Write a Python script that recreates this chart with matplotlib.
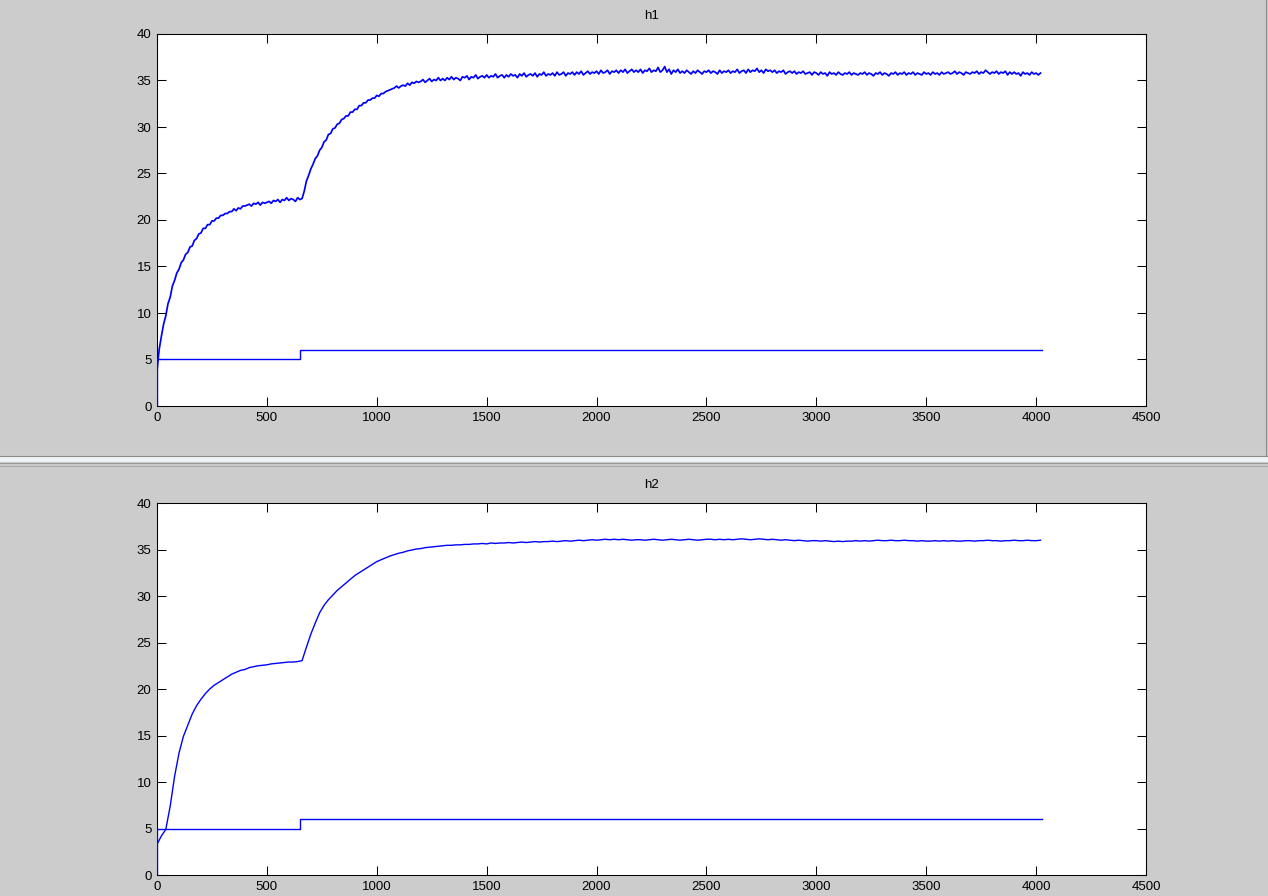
import matplotlib
matplotlib.use("Agg")
import matplotlib.pyplot as plt
from matplotlib.patches import Rectangle
from matplotlib.lines import Line2D
import numpy as np

# ---------------- data ----------------
h1_step = 10
h1_values = [
    3.8, 6.1, 7.5, 8.8, 9.7, 11.0, 11.7, 12.9, 13.5, 14.3,
    14.7, 15.4, 15.7, 16.3, 16.5, 17.1, 17.2, 17.8, 18.0, 18.5,
    18.6, 19.1, 19.1, 19.5, 19.5, 19.9, 19.9, 20.2, 20.2, 20.5,
    20.5, 20.7, 20.7, 20.9, 20.9, 21.2, 21.0, 21.3, 21.2, 21.5,
    21.5, 21.6, 21.7, 21.5, 21.8, 21.7, 21.9, 21.6, 21.9, 21.8,
    21.9, 22.0, 21.8, 22.1, 22.0, 22.2, 21.9, 22.2, 22.1, 22.4,
    22.1, 22.3, 22.2, 22.0, 22.4, 22.2, 22.3, 23.1, 24.2, 24.8,
    25.5, 26.0, 26.6, 26.9, 27.5, 27.8, 28.4, 28.6, 29.2, 29.3,
    29.8, 29.9, 30.3, 30.4, 30.8, 30.9, 31.2, 31.2, 31.6, 31.6,
    31.9, 31.9, 32.3, 32.3, 32.6, 32.6, 32.9, 32.9, 33.1, 33.1,
    33.4, 33.3, 33.6, 33.6, 33.8, 33.9, 34.0, 34.1, 34.2, 34.4,
    34.2, 34.4, 34.5, 34.4, 34.7, 34.5, 34.8, 34.7, 34.9, 34.8,
    34.9, 35.1, 34.8, 35.0, 35.2, 34.9, 35.1, 35.0, 35.3, 35.0,
    35.2, 35.0, 35.3, 35.1, 35.4, 35.1, 35.3, 35.2, 35.0, 35.4,
    35.3, 35.5, 35.1, 35.4, 35.3, 35.6, 35.2, 35.4, 35.5, 35.3,
    35.6, 35.3, 35.5, 35.4, 35.7, 35.3, 35.5, 35.6, 35.3, 35.6,
    35.4, 35.7, 35.5, 35.6, 35.3, 35.7, 35.5, 35.8, 35.4, 35.6,
    35.7, 35.5, 35.8, 35.4, 35.7, 35.6, 35.9, 35.5, 35.7, 35.6,
    35.8, 35.5, 35.9, 35.6, 35.7, 35.9, 35.5, 35.8, 35.7, 35.9,
    35.6, 35.9, 35.7, 36.0, 35.6, 35.8, 36.0, 35.7, 35.9, 35.8,
    36.0, 35.7, 36.1, 35.8, 35.9, 36.1, 35.7, 36.0, 35.9, 36.1,
    35.8, 36.1, 35.9, 36.2, 35.8, 36.0, 36.2, 35.9, 36.1, 35.9,
    36.2, 35.8, 36.1, 36.0, 36.3, 35.9, 36.1, 36.0, 36.4, 35.9,
    36.1, 36.5, 35.9, 36.2, 35.7, 36.1, 35.9, 36.2, 35.8, 36.0,
    35.8, 36.1, 35.9, 35.7, 36.0, 35.8, 36.1, 35.9, 35.7, 36.0,
    35.9, 36.1, 35.8, 36.0, 35.9, 35.7, 36.1, 35.8, 36.0, 35.9,
    36.1, 35.8, 36.0, 35.9, 36.2, 35.8, 36.0, 36.1, 35.8, 36.2,
    35.9, 36.1, 36.0, 36.3, 35.9, 36.1, 35.8, 36.2, 36.0, 36.1,
    35.9, 36.1, 35.8, 36.0, 35.9, 36.1, 35.7, 35.9, 36.0, 35.8,
    36.0, 35.7, 35.9, 35.8, 36.0, 35.7, 35.8, 35.9, 35.6, 35.9,
    35.8, 35.6, 35.9, 35.7, 35.8, 35.5, 35.9, 35.7, 35.8, 35.6,
    35.9, 35.7, 35.6, 35.8, 35.7, 35.9, 35.6, 35.8, 35.7, 35.6,
    35.8, 35.7, 35.9, 35.6, 35.8, 35.7, 35.5, 35.8, 35.7, 35.9,
    35.6, 35.8, 35.7, 35.5, 35.8, 35.7, 35.9, 35.6, 35.8, 35.7,
    35.9, 35.6, 35.8, 35.7, 35.9, 35.6, 35.8, 35.7, 35.6, 35.9,
    35.7, 35.8, 35.6, 35.9, 35.7, 35.8, 35.6, 35.9, 35.7, 35.8,
    35.9, 35.7, 35.8, 36.0, 35.7, 35.9, 35.8, 35.6, 35.9, 35.8,
    35.7, 35.9, 35.8, 36.0, 35.7, 35.9, 35.8, 36.1, 35.9, 35.7,
    35.9, 35.8, 36.0, 35.7, 35.9, 35.8, 36.0, 35.6, 35.9, 35.7,
    35.9, 35.7, 35.8, 35.5, 35.9, 35.7, 35.8, 35.6, 35.9, 35.7,
    35.8, 35.6, 35.8,
]

h2_step = 20
h2_values = [
    3.3, 4.2, 4.9, 7.4, 10.6, 13.1, 14.9, 16.1, 17.3, 18.2,
    18.9, 19.5, 20.0, 20.4, 20.7, 21.0, 21.3, 21.6, 21.8, 22.0,
    22.1, 22.3, 22.4, 22.5, 22.55, 22.6, 22.7, 22.75, 22.8, 22.85,
    22.9, 22.9, 22.95, 23.05, 24.5, 25.9, 27.1, 28.2, 29.0, 29.6,
    30.1, 30.6, 31.0, 31.4, 31.8, 32.2, 32.5, 32.8, 33.1, 33.4,
    33.7, 33.9, 34.1, 34.3, 34.45, 34.6, 34.7, 34.85, 34.95, 35.05,
    35.1, 35.2, 35.25, 35.3, 35.35, 35.4, 35.45, 35.45, 35.5, 35.5,
    35.55, 35.55, 35.6, 35.6, 35.65, 35.6, 35.7, 35.65, 35.7, 35.7,
    35.75, 35.7, 35.75, 35.8, 35.75, 35.8, 35.85, 35.8, 35.85, 35.85,
    35.9, 35.85, 35.9, 35.95, 35.9, 35.95, 36.0, 35.95, 36.0, 36.05,
    36.0, 36.05, 36.1, 36.05, 36.1, 36.05, 36.1, 36.05, 36.0, 36.05,
    36.05, 36.0, 36.05, 36.1, 36.05, 36.0, 36.05, 36.1, 36.05, 36.0,
    36.05, 36.1, 36.05, 36.0, 36.05, 36.1, 36.1, 36.05, 36.1, 36.05,
    36.1, 36.05, 36.1, 36.15, 36.1, 36.05, 36.1, 36.15, 36.1, 36.05,
    36.1, 36.05, 36.0, 36.05, 36.0, 35.95, 36.0, 35.95, 35.9, 35.95,
    35.95, 35.9, 35.95, 35.9, 35.85, 35.9, 35.85, 35.9, 35.9, 35.95,
    35.9, 35.95, 35.9, 35.95, 36.0, 35.95, 35.95, 36.0, 35.95, 35.95,
    36.0, 35.95, 35.95, 35.9, 35.95, 35.9, 35.9, 35.95, 35.9, 35.95,
    35.9, 35.95, 35.9, 35.9, 35.95, 35.95, 35.9, 35.95, 35.95, 36.0,
    35.95, 35.95, 35.9, 35.95, 35.95, 36.0, 35.95, 35.95, 36.0, 35.95,
    35.95, 36.0,
]

setpoint_t = [0, 2, 650, 4027]
setpoint_v = [0, 5, 6, 6]

titles = ["h1", "h2"]
x_ticks = [0, 500, 1000, 1500, 2000, 2500, 3000, 3500, 4000, 4500]
y_ticks = [0, 5, 10, 15, 20, 25, 30, 35, 40]

# ---------------- figure ----------------
W, H = 1268, 896
fig = plt.figure(figsize=(W / 100, H / 100), dpi=100, facecolor="#cccccc")
plt.rcParams["font.family"] = ["Liberation Sans", "DejaVu Sans"]


def fx(px):
    return px / W


def fy(py):
    return 1 - py / H


# window decorations (separator between the two figure windows)
fig.patches.append(Rectangle((0, fy(462)), 1, fy(456) - fy(462), transform=fig.transFigure,
                             facecolor="#eef4f6", edgecolor="none", zorder=0))
fig.lines.append(Line2D([0, 1], [fy(456), fy(456)], transform=fig.transFigure, color="#8c8c8c", lw=0.8))
fig.lines.append(Line2D([0, 1], [fy(463.5), fy(463.5)], transform=fig.transFigure, color="#9a9a9a", lw=0.8))
fig.lines.append(Line2D([0, 1], [fy(466), fy(466)], transform=fig.transFigure, color="#a8a8a8", lw=0.8))
fig.lines.append(Line2D([fx(1266), fx(1266)], [fy(456), 1], transform=fig.transFigure, color="#8c8c8c", lw=0.8))

series = [(h1_values, h1_step, 1.25), (h2_values, h2_step, 1.0)]
tops = [34, 503]
for i, ((vals, step, lw), top) in enumerate(zip(series, tops)):
    left, right, bottom = 157, 1146, top + 372
    ax = fig.add_axes([fx(left), fy(bottom), fx(right) - fx(left), fy(top) - fy(bottom)])
    ax.set_facecolor("white")
    t = np.arange(len(vals)) * step
    ax.plot(t, vals, color="#0000ff", lw=lw, zorder=3)
    ax.plot(setpoint_t, setpoint_v, color="#0000ff", lw=1.0, drawstyle="steps-post", zorder=3)
    ax.set_xlim(0, 4500)
    ax.set_ylim(0, 40)
    ax.set_xticks(x_ticks)
    ax.set_yticks(y_ticks)
    ax.tick_params(direction="in", length=6.5, width=0.75, top=True, right=True,
                   labelsize=9.5, pad=4, colors="black")
    for s in ax.spines.values():
        s.set_linewidth(0.75)
        s.set_color("black")
    ax.set_title(titles[i], fontsize=9.5, pad=11)

fig.savefig("out.png", dpi=100, facecolor=fig.get_facecolor())
